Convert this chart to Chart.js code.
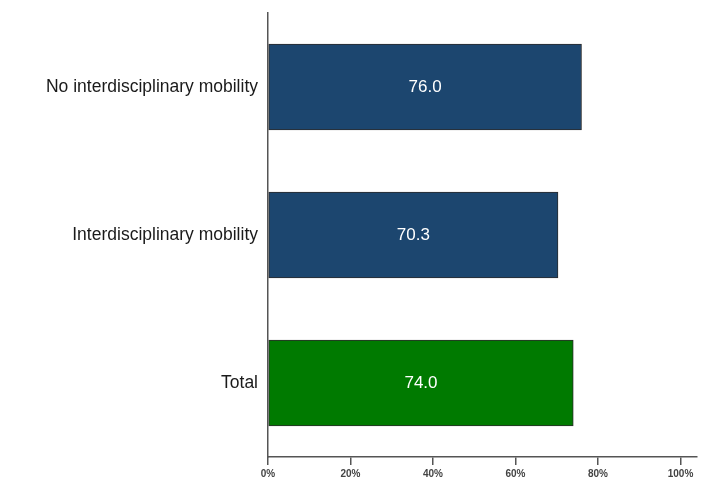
<!DOCTYPE html>
<html>
<head>
<meta charset="utf-8">
<script src="https://cdn.jsdelivr.net/npm/chart.js@4"></script>
<style>
  html, body { margin: 0; padding: 0; background: #fff; }
  #wrap { width: 707px; height: 479px; }
</style>
</head>
<body>
<div id="wrap"><canvas id="chart"></canvas></div>
<script>
const categories = ['No interdisciplinary mobility', 'Interdisciplinary mobility', 'Total'];
const shares = [76.0, 70.3, 74.0];
const barColors = ['#1c466f', '#1c466f', '#007a00'];
const xTicks = [0, 20, 40, 60, 80, 100];

// writes the value in the middle of each bar
const barLabels = {
    id: 'barLabels',
    afterDatasetsDraw(chart) {
        const ctx = chart.ctx;
        const meta = chart.getDatasetMeta(0);
        ctx.save();
        ctx.fillStyle = '#ffffff';
        ctx.font = '17px "Liberation Sans", Arial, sans-serif';
        ctx.textAlign = 'center';
        ctx.textBaseline = 'middle';
        meta.data.forEach((bar, i) => {
            const mid = (bar.base + bar.x) / 2;
            ctx.fillText(shares[i].toFixed(1), mid, bar.y);
        });
        ctx.restore();
    }
};

new Chart(document.getElementById('chart'), {
    type: 'bar',
    data: {
        labels: categories,
        datasets: [{
            data: shares,
            backgroundColor: barColors,
            borderColor: '#2b2b2b',
            borderWidth: 1,
            borderSkipped: false,
            barThickness: 86
        }]
    },
    options: {
        indexAxis: 'y',
        responsive: true,
        maintainAspectRatio: false,
        animation: false,
        layout: { padding: { top: 13, right: 10, left: 0, bottom: 0 } },
        plugins: {
            legend: { display: false },
            tooltip: { enabled: false }
        },
        scales: {
            x: {
                min: 0,
                max: 104,
                afterBuildTicks: (scale) => {
                    scale.ticks = xTicks.map(v => ({ value: v }));
                },
                afterFit: (scale) => {
                    scale.height = 22;
                    scale.paddingLeft = 0;
                    scale.paddingRight = 0;
                },
                ticks: {
                    callback: (v) => v + '%',
                    color: '#444',
                    font: { family: '"Liberation Sans", Arial, sans-serif', size: 10, weight: 'bold' },
                    padding: 3,
                    maxRotation: 0
                },
                grid: {
                    drawOnChartArea: false,
                    drawTicks: true,
                    tickLength: 8,
                    color: '#555',
                    lineWidth: 1.5
                },
                border: { color: '#555', width: 1.5 }
            },
            y: {
                afterFit: (scale) => {
                    scale.width = 268;
                    scale.paddingTop = 0;
                    scale.paddingBottom = 0;
                },
                ticks: {
                    color: '#1a1a1a',
                    font: { family: '"Liberation Sans", Arial, sans-serif', size: 17.5 },
                    padding: 10
                },
                grid: { display: false, drawTicks: false },
                border: { color: '#555', width: 1.5 }
            }
        }
    },
    plugins: [barLabels]
});
</script>
</body>
</html>
